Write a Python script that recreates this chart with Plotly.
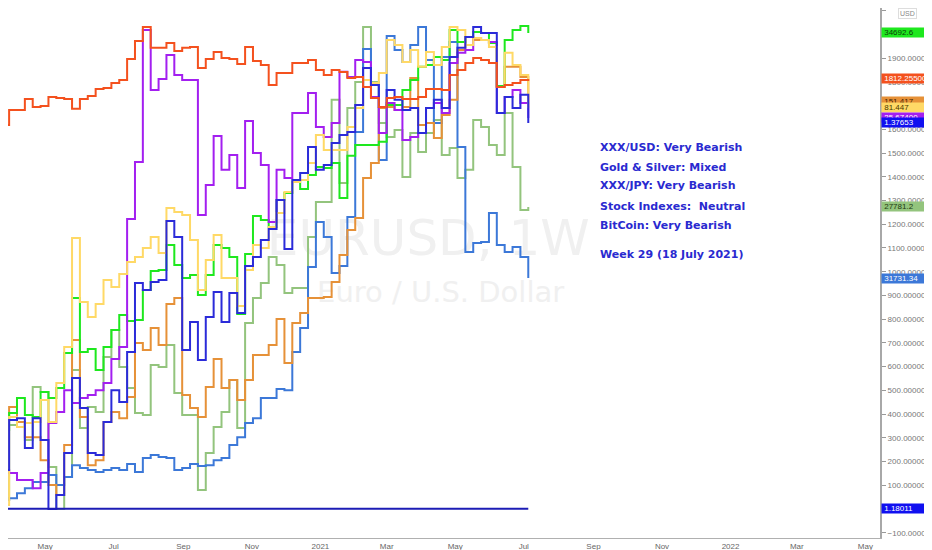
import pandas as pd
import plotly.graph_objects as go

# weekly bars, first bar week of 23 Mar 2020
START = "2020-03-23"
N_WEEKS = 68

# values as they sit on the shared (gold-priced) overlay scale
gold = [1618, 1681, 1681, 1728, 1694, 1698, 1736, 1732, 1728, 1686,
        1728, 1740, 1770, 1774, 1795, 1808, 1896, 1972, 2031, 1943,
        1943, 1964, 1930, 1943, 1947, 1858, 1896, 1926, 1900, 1896,
        1875, 1947, 1888, 1871, 1787, 1837, 1837, 1879, 1879, 1892,
        1850, 1829, 1850, 1841, 1816, 1820, 1778, 1732, 1694, 1732,
        1736, 1728, 1728, 1736, 1770, 1770, 1766, 1829, 1850, 1879,
        1900, 1892, 1879, 1778, 1787, 1795, 1808, 1812]
silver = [164, 152, 122, 122, 88, 152, 362, 409, 501, 447,
          468, 480, 501, 531, 632, 683, 1222, 1462, 2018, 1766,
          1812, 1913, 1829, 1808, 1808, 1239, 1365, 1572, 1429, 1492,
          1353, 1635, 1500, 1450, 1209, 1429, 1395, 1669, 1669, 1753,
          1610, 1568, 1627, 1842, 1820, 1892, 1884, 1736, 1584, 1711,
          1681, 1555, 1568, 1584, 1690, 1711, 1669, 1879, 1922, 1934,
          1985, 1976, 1968, 1669, 1736, 1766, 1711, 1648]
yellow = [17, 388, 346, 362, 367, 459, 367, 531, 683, 1142,
          872, 809, 864, 965, 936, 990, 1041, 1062, 1100, 1146,
          1079, 1268, 1252, 1239, 1134, 923, 1049, 1155, 973, 973,
          855, 1007, 1112, 1100, 1188, 1247, 1336, 1378, 1386, 1458,
          1576, 1513, 1513, 1513, 1610, 1690, 1808, 1795, 1837, 1976,
          1955, 1884, 1934, 1863, 1926, 1871, 1947, 2031, 2018, 1955,
          1985, 1976, 1947, 1778, 1922, 1871, 1829, 1690]
lime = [333, 405, 468, 396, 388, 493, 468, 510, 657, 889,
        662, 674, 586, 683, 754, 818, 792, 796, 923, 1003,
        1007, 1112, 1028, 973, 986, 902, 986, 1112, 1100, 1062,
        822, 1075, 1235, 1218, 1188, 1302, 1332, 1378, 1348, 1407,
        1441, 1437, 1458, 1311, 1488, 1534, 1534, 1534, 1547, 1702,
        1702, 1766, 1808, 1863, 1871, 1905, 1892, 2018, 1968, 1989,
        2010, 2006, 1964, 1782, 1976, 2018, 2035, 2006]
gbp = [164, 375, 383, 257, 383, 291, 0, 59, 236, 552,
       426, 236, 228, 367, 501, 451, 662, 952, 923, 957,
       965, 1214, 1146, 670, 788, 628, 809, 914, 788, 910,
       826, 1024, 1062, 1134, 1180, 1302, 1096, 1386, 1416, 1525,
       1429, 1450, 1542, 1576, 1589, 1702, 1858, 1787, 1694, 1766,
       1724, 1681, 1690, 1584, 1690, 1724, 1690, 1905, 1943, 1989,
       2031, 2006, 2006, 1669, 1736, 1690, 1745, 1627]
orange = [383, 430, 367, 303, 303, 206, 101, 59, 270, 712,
          388, 185, 206, 367, 409, 383, 472, 700, 670, 763,
          691, 864, 889, 480, 426, 388, 514, 632, 510, 544,
          459, 544, 649, 649, 691, 801, 615, 784, 826, 889,
          889, 893, 957, 1070, 1176, 1226, 1395, 1458, 1690, 1694,
          1681, 1694, 1816, 1618, 1627, 1563, 1660, 1724, 1934, 1989,
          1976, 1976, 1964, 1778, 1863, 1863, 1820, 1715]
nikkei = [38, 354, 367, 291, 514, 493, 177, 0, 135, 586,
          341, 430, 409, 641, 754, 598, 510, 405, 396, 607,
          598, 691, 489, 396, 396, 80, 236, 346, 409, 544,
          341, 784, 889, 952, 1062, 1028, 910, 931, 931, 1146,
          1294, 1294, 1724, 1374, 1690, 1799, 2031, 1799, 1627, 1568,
          1597, 1399, 1584, 1504, 1584, 1639, 1492, 1521, 1395, 1429,
          1639, 1610, 1534, 1492, 1669, 1441, 1260, 1273]
btc = [38, 46, 67, 88, 114, 114, 143, 101, 135, 185,
       173, 164, 156, 164, 173, 164, 190, 156, 215, 228,
       219, 215, 164, 173, 190, 181, 185, 206, 215, 270,
       303, 362, 383, 468, 468, 506, 501, 662, 763, 1020,
       1209, 1146, 994, 1024, 1230, 1589, 1938, 1787, 1471, 1993,
       1934, 1884, 1955, 2031, 1892, 1627, 1905, 1968, 1525, 1083,
       1121, 1125, 1247, 1112, 1083, 1104, 1062, 973]
eurusd = [1.08, 1.10, 1.09, 1.09, 1.08, 1.09, 1.08, 1.09, 1.10, 1.09,
          1.11, 1.13, 1.12, 1.13, 1.12, 1.12, 1.13, 1.14, 1.17, 1.18,
          1.18, 1.18, 1.18, 1.19, 1.18, 1.18, 1.17, 1.16, 1.17, 1.16,
          1.18, 1.18, 1.17, 1.16, 1.18, 1.19, 1.19, 1.20, 1.21, 1.21,
          1.22, 1.22, 1.23, 1.22, 1.22, 1.21, 1.21, 1.21, 1.21, 1.21,
          1.19, 1.19, 1.18, 1.19, 1.18, 1.18, 1.20, 1.21, 1.20, 1.22,
          1.21, 1.22, 1.22, 1.22, 1.19, 1.19, 1.19, 1.18]

# last-price tags shown on the price scale
last_text = ["34692.6", "1812.25500", "151.417", "81.447", "25.67400",
             "1.37653", "27781.2", "31731.34", "1.18011"]

x_tickvals = ["2020-05-01", "2020-07-01", "2020-09-01", "2020-11-01", "2021-01-01",
              "2021-03-01", "2021-05-01", "2021-07-01", "2021-09-01", "2021-11-01",
              "2022-01-01", "2022-03-01", "2022-05-01"]
x_ticktext = ["May", "Jul", "Sep", "Nov", "2021", "Mar", "May", "Jul",
              "Sep", "Nov", "2022", "Mar", "May"]

notes = ["XXX/USD: Very Bearish", "Gold & Silver: Mixed", "XXX/JPY: Very Bearish",
         "Stock Indexes:  Neutral", "BitCoin: Very Bearish", "Week 29 (18 July 2021)"]

# symbol watermark
wm_text = ["EURUSD, 1W", "Euro / U.S. Dollar"]
wm_x = ["2021-04-07", "2021-04-18"]
wm_y = [1121, 902]

dates = pd.date_range(START, periods=N_WEEKS, freq="7D")

C_GOLD = "#f4511e"
C_SILVER = "#a31ff0"
C_LIME = "#1ee81e"
C_ORANGE = "#e69138"
C_YELLOW = "#ffd966"
C_GBP = "#2b2bd9"
C_NIKKEI = "#93c47d"
C_BTC = "#3c78d8"
C_EUR = "#1c1cb5"

fig = go.Figure()

# watermark goes first so every line is drawn over it
for txt, xx, yy, sz in zip(wm_text, wm_x, wm_y, [50, 29]):
    fig.add_trace(go.Scatter(x=[xx], y=[yy], mode="text", text=[txt],
                             textposition="middle center",
                             textfont=dict(size=sz, color="#f0f0f0", family="DejaVu Sans"),
                             hoverinfo="skip", showlegend=False))

# drawing order: first is at the back
series = [
    (nikkei, C_NIKKEI), (btc, C_BTC), (orange, C_ORANGE), (lime, C_LIME),
    (silver, C_SILVER), (yellow, C_YELLOW), (gbp, C_GBP), (gold, C_GOLD),
    (eurusd, C_EUR),
]
for vals, col in series:
    fig.add_trace(go.Scatter(x=dates, y=vals, mode="lines", line_shape="hv",
                             line=dict(color=col, width=2), hoverinfo="skip",
                             showlegend=False))

# tags on the right scale (same order as last_text)
tags = [(lime, C_LIME, "#0b3d0b"), (gold, C_GOLD, "white"), (orange, C_ORANGE, "#3a2300"),
        (yellow, C_YELLOW, "#4a3a00"), (silver, C_SILVER, "white"), (gbp, "#1010f0", "white"),
        (nikkei, C_NIKKEI, "#1f3a12"), (btc, C_BTC, "white"), (eurusd, "#1010f0", "white")]
for txt, (vals, bg, fg) in zip(last_text, tags):
    fig.add_annotation(xref="paper", yref="y", x=1, y=vals[-1], text=" " + txt,
                       xanchor="left", yanchor="middle", showarrow=False,
                       width=47, height=9, align="left",
                       bgcolor=bg, borderpad=0, font=dict(size=8, color=fg,
                       family="Liberation Sans, Arial, sans-serif"), xshift=1)

fig.add_annotation(xref="paper", yref="paper", x=1.031, y=1, xanchor="center",
                   yanchor="top", text="USD", showarrow=False,
                   font=dict(size=7, color="#888"),
                   bordercolor="#ddd", borderwidth=1, borderpad=1, bgcolor="white")

# commentary block
note_y = [0.7377, 0.700, 0.6642, 0.6264, 0.5887, 0.534]
for txt, yy in zip(notes, note_y):
    fig.add_annotation(xref="paper", yref="paper", x=0.6766, y=yy, text=txt,
                       xanchor="left", yanchor="middle", showarrow=False,
                       font=dict(size=11, color="#2a2ad0", family="DejaVu Sans",
                                 weight="bold"))

fig.update_xaxes(range=["2020-03-29", "2022-05-14"], tickvals=x_tickvals,
                 ticktext=x_ticktext, showgrid=False, zeroline=False,
                 showline=True, linecolor="#b0b0b0", linewidth=1, ticks="",
                 tickfont=dict(size=8, color="#666"), automargin=False)
fig.update_yaxes(side="right", range=[-122, 2111], tick0=0, dtick=100,
                 tickformat=".5f", showgrid=False, zeroline=False,
                 showline=True, linecolor="#a8a8a8", linewidth=2,
                 ticks="outside", ticklen=4, tickcolor="#999",
                 tickfont=dict(size=8, color="#777",
                               family="Liberation Sans, Arial, sans-serif"),
                 automargin=False)

# page adds an 8px body margin, so the figure is sized to fit the window
fig.update_layout(
    width=924, height=542,
    paper_bgcolor="white", plot_bgcolor="white",
    margin=dict(l=0, r=52, t=0, b=12),
    font=dict(family="Liberation Sans, Arial, sans-serif"),
)

fig.write_html("out.html")
